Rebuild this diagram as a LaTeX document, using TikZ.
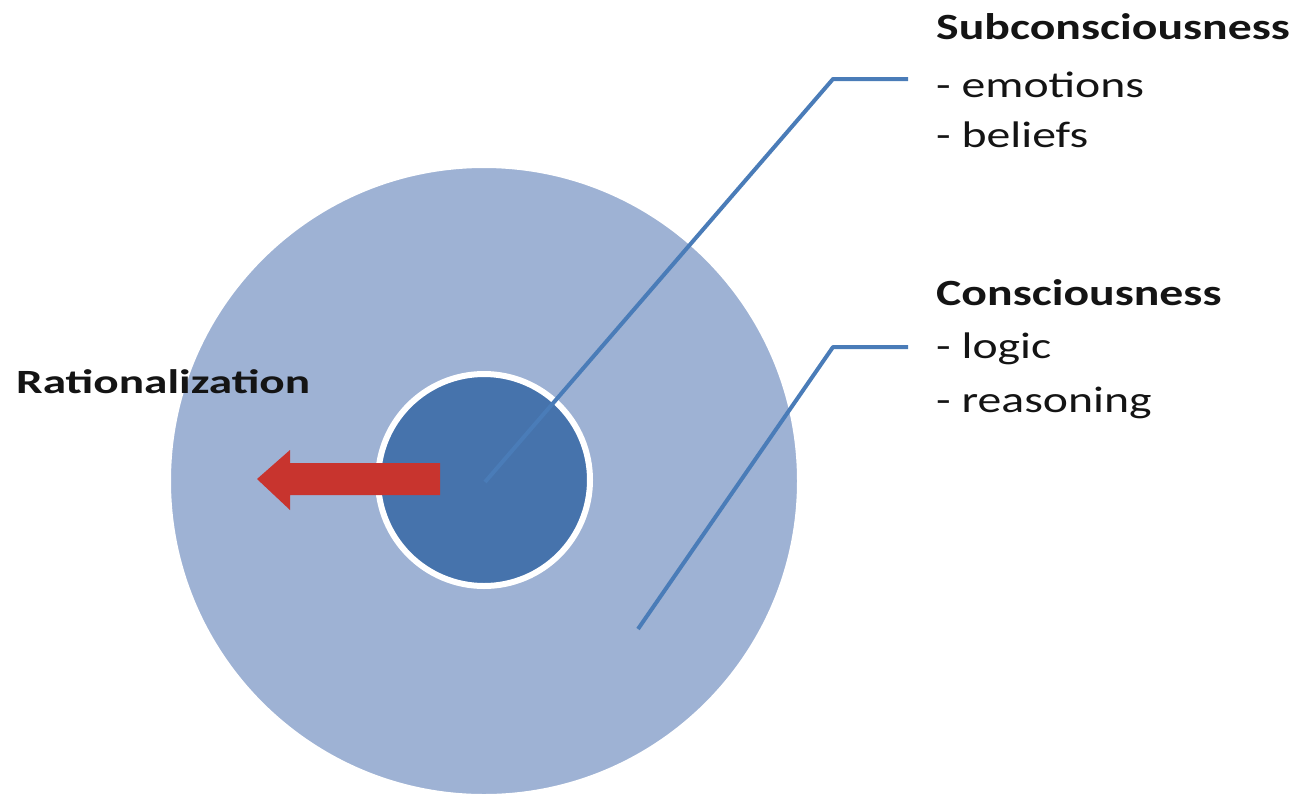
\documentclass[tikz,border=0pt]{standalone}
\usepackage{fontspec}
\setmainfont{Carlito}[FakeStretch=1.29]
\newfontfamily\ratfont{Carlito}[FakeStretch=1.39]
\definecolor{outerfill}{RGB}{158,178,212}
\definecolor{innerfill}{RGB}{70,115,172}
\definecolor{leader}{RGB}{74,124,184}
\definecolor{arrowred}{RGB}{200,52,46}
\definecolor{txt}{RGB}{20,20,20}
\begin{document}
\begin{tikzpicture}[x=1pt,y=-1pt,
  ring/.style={draw=white,line width=6pt},
  leaderline/.style={draw=leader,line width=4pt,line join=round},
  title/.style={anchor=base west,font=\bfseries\fontsize{37}{44}\selectfont,text=txt,inner sep=0pt},
  item/.style={anchor=base west,font=\fontsize{37}{44}\selectfont,text=txt,inner sep=0pt}]
\useasboundingbox (0,0) rectangle (1299,807);
% circles
\path[fill=outerfill,ring] (484,481) circle[radius=316pt];
\coordinate (outer) at (484,481);
\path[fill=innerfill,ring] (484,480) circle[radius=106pt];
\coordinate (center) at (485,482);
% arrow
\fill[arrowred] (440,463) -- (290,463) -- (290,450) -- (257,479) -- (290,510) -- (290,495) -- (440,495) -- cycle;
% labels
\node[title] (sub) at (936,39) {Subconsciousness};
\node[item] (emo) at (936,97) {- emotions};
\node[item] (bel) at (936,147) {- beliefs};
\node[title] (con) at (936,305) {Consciousness};
\node[item] (log) at (936,358) {- logic};
\node[item] (rea) at (936,412) {- reasoning};
\node[title,font=\ratfont\bfseries\fontsize{34}{40}\selectfont] (rat) at (16,393) {Rationalization};
% leaders
\coordinate (c1) at (833,79);
\coordinate (e1) at (908,79);
\coordinate (s2) at (638,629);
\coordinate (c2) at (833,347);
\coordinate (e2) at (908,347);
\draw[leaderline] (center) -- (c1) -- (e1);
\draw[leaderline] (s2) -- (c2) -- (e2);
\end{tikzpicture}
\end{document}
